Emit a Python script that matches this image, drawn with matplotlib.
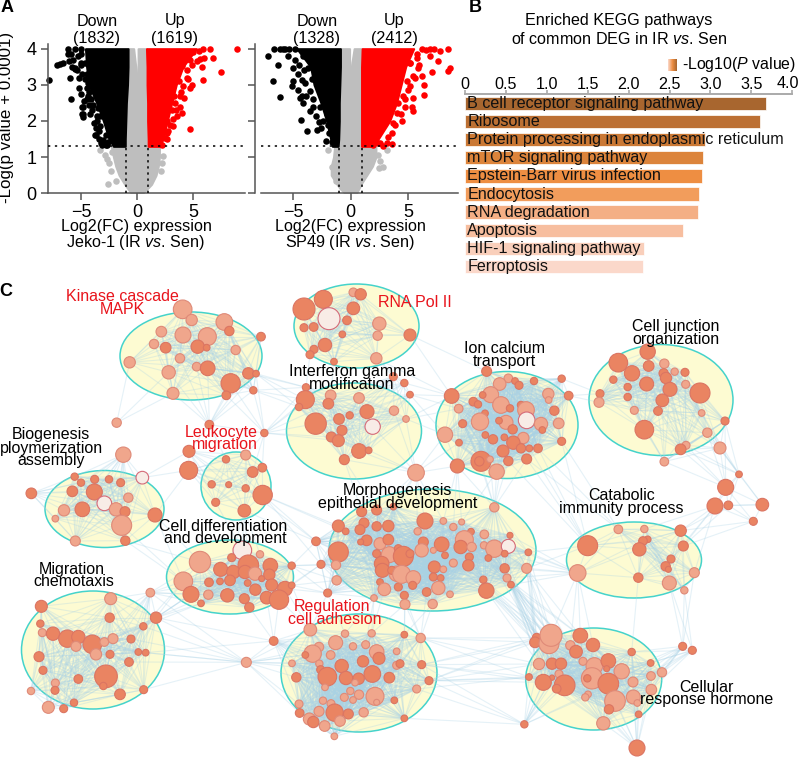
# Volcano plots, KEGG bars and enrichment network

import numpy as np
from matplotlib import pyplot as plt
from matplotlib.collections import LineCollection
from matplotlib.colors import LinearSegmentedColormap
from matplotlib.patches import Ellipse

plt.rcParams['font.family'] = ['Liberation Sans', 'DejaVu Sans']
plt.rcParams['mathtext.fontset'] = 'custom'
plt.rcParams['mathtext.rm'] = 'Liberation Sans'
plt.rcParams['mathtext.it'] = 'Liberation Sans:italic'

W, H = 800, 757

# Panel A: outline of the solid masses of points, then the loose points
jeko_y = [1.3, 1.5, 2.0, 2.5, 3.0, 3.5, 4.0]
jeko_black_l = [-2.1, -2.5, -3.0, -3.6, -4.3, -4.5, -4.6]
jeko_black_r = [-1.05, -1.05, -1.0, -0.95, -0.85, -0.8, -0.8]
jeko_red_l = [1.0, 1.0, 0.95, 0.95, 0.9, 0.9, 0.85]
jeko_red_r = [2.1, 2.3, 2.7, 3.1, 3.5, 4.1, 5.3]
jeko_gray_y = [0, 0.12, 0.25, 0.5, 0.75, 1.0, 1.3, 2.0, 3.0, 3.3, 3.6, 4.0]
jeko_gray_l = [-0.5, -0.8, -1.1, -1.6, -1.9, -2.1, -2.3, -1.0, -0.85, -0.8, -0.8, -0.8]
jeko_gray_r = [0.5, 0.9, 1.3, 1.7, 1.9, 2.0, 2.0, 1.0, 0.9, 0.9, 0.9, 0.85]
jeko_gap_l = [0, 0, 0, 0, 0, 0, 0, 0, 0, -0.05, -0.15, -0.3]
jeko_gap_r = [0, 0, 0, 0, 0, 0, 0, 0, 0, 0.05, 0.1, 0.1]
jeko_black_x = [-7.9, -7.1, -6.9, -6.6, -6.2, -6.2, -6.1, -5.9, -5.7, -5.5, -5.0, -5.3, -5.0, -6.0, -5.8,
                -5.5, -5.4, -5.2, -5.0, -4.9, -4.6, -4.5, -5.2, -5.9, -5.0, -4.9, -4.9, -4.8, -4.5, -4.3,
                -4.3, -4.1, -4.2, -3.8, -3.7, -3.7, -3.4, -3.2, -3.0, -2.8,
                -4.8, -3.6, -3.75, -3.3, -3.0, -3.15, -4.05, -4.35, -4.5, -4.65, -4.85, -3.3, -3.6, -3.42, -2.77,
                -2.56, -2.7, -5.0, -5.5, -4.7, -4.4, -3.9, -3.5]
jeko_black_y = [3.13, 3.55, 3.58, 3.6, 4.0, 3.85, 3.65, 3.85, 3.7, 4.0, 4.0, 3.8, 3.85, 3.2, 3.5,
                3.45, 3.4, 3.2, 3.55, 3.3, 3.6, 3.3, 2.9, 2.6, 2.75, 2.4, 2.2, 2.1, 2.6, 2.8,
                2.45, 2.6, 2.2, 1.95, 1.8, 1.6, 1.5, 1.4, 1.35, 1.33,
                2.4, 2.0, 1.62, 1.85, 1.48, 1.34, 2.3, 2.68, 2.9, 3.15, 2.18, 2.13, 2.13, 1.71, 1.62,
                1.43, 1.34, 3.6, 3.47, 2.55, 3.05, 2.45, 2.35]
jeko_red_x = [8.9, 6.5, 5.9, 5.5, 6.8, 6.0, 5.6, 5.4, 5.0, 7.5, 5.77, 5.86, 4.88, 4.73, 4.58, 4.2, 4.0,
              4.73, 3.24, 2.8, 3.84, 4.5, 3.9, 3.5, 3.2, 2.7,
              2.65, 2.5, 2.95, 2.35, 3.54, 3.1, 3.84, 4.14, 4.43, 4.0, 4.73, 4.88, 2.2, 2.65, 3.4, 3.75, 3.3]
jeko_red_y = [3.98, 3.98, 3.98, 3.95, 3.75, 3.75, 3.72, 3.65, 3.9, 3.35, 3.49, 3.13, 3.0, 2.92, 3.15, 2.64, 2.22,
              1.79, 1.85, 1.71, 2.4, 3.4, 2.8, 2.3, 2.05, 1.5,
              1.67, 1.53, 1.9, 2.13, 2.13, 2.3, 2.68, 2.96, 3.19, 3.52, 3.7, 3.56, 1.34, 2.0, 2.5, 3.1, 2.7]
jeko_gray_x = [-2.56, -1.9, -2.3, -2.7, -3.3, -2.9, 2.3, 2.1, 1.8, -2.5, -2.2, 2.2]
jeko_gray_y_pts = [0.25, 0.33, 0.62, 0.95, 1.2, 1.05, 1.03, 0.62, 1.2, 0.85, 1.15, 0.85]

sp49_y = [1.3, 1.5, 2.0, 2.5, 3.0, 3.5, 4.0]
sp49_black_l = [-1.6, -1.75, -2.1, -2.6, -3.2, -3.5, -4.7]
sp49_black_r = [-1.1, -1.05, -1.0, -1.0, -0.95, -0.9, -0.9]
sp49_red_l = [0.95, 0.95, 0.95, 0.95, 0.95, 0.95, 1.0]
sp49_red_r = [2.0, 2.4, 3.4, 4.0, 4.4, 4.8, 5.5]
sp49_gray_y = [0, 0.12, 0.25, 0.5, 0.75, 1.0, 1.3, 2.0, 3.0, 3.4, 3.7, 4.0]
sp49_gray_l = [-0.5, -0.9, -1.2, -1.7, -1.7, -1.5, -1.4, -1.0, -0.95, -0.9, -0.9, -0.9]
sp49_gray_r = [0.5, 0.7, 0.9, 1.4, 1.9, 2.2, 2.2, 1.0, 0.95, 0.95, 0.95, 1.0]
sp49_gap_l = [0, 0, 0, 0, 0, 0, 0, 0, 0, -0.02, -0.1, -0.1]
sp49_gap_r = [0, 0, 0, 0, 0, 0, 0, 0, 0, 0.02, 0.15, 0.3]
sp49_black_x = [-7.2, -6.8, -6.38, -6.2, -6.67, -6.2, -5.9, -5.44, -5.07, -4.6, -5.0, -5.15, -4.57, -4.28,
                -4.4, -4.2, -3.55, -4.37, -3.84, -2.9, -2.8, -3.55, -4.1, -3.9, -3.3, -3.0, -2.6, -2.2,
                -2.68, -2.1, -2.39, -1.95, -1.86, -1.66, -3.26, -4.0, -3.4, -3.7, -4.13, -4.86, -4.28,
                -5.4, -5.7, -4.9, -4.5]
sp49_black_y = [3.8, 3.12, 3.56, 2.66, 3.98, 3.98, 3.98, 3.8, 3.47, 3.29, 3.1, 2.96, 2.87, 3.13,
                2.64, 2.5, 2.29, 2.04, 1.71, 1.76, 1.96, 2.82, 3.4, 2.7, 2.4, 2.15, 1.8, 1.45,
                2.4, 2.18, 1.99, 1.9, 1.67, 1.43, 2.6, 3.05, 3.15, 3.47, 3.8, 3.98, 2.68,
                3.98, 3.98, 3.7, 3.55]
sp49_red_x = [8.53, 7.8, 6.93, 6.2, 8.68, 8.53, 7.66, 6.93, 7.07, 5.9, 6.2, 6.43, 6.43, 5.47, 5.33, 4.45,
              3.29, 3.58, 2.85, 1.98, 5.47, 4.75, 7.3, 6.6, 5.8, 5.2, 4.9, 4.4, 3.9, 2.6,
              3.58, 3.14, 2.42, 4.0, 3.73, 4.75, 5.18, 5.47, 5.18, 5.76, 4.6, 4.16, 6.0, 5.6, 5.0]
sp49_red_y = [3.98, 3.93, 3.98, 3.98, 3.47, 3.38, 3.66, 3.8, 3.35, 3.47, 3.24, 3.0, 2.71, 2.64, 2.4, 1.99,
              1.57, 1.37, 1.3, 1.34, 2.27, 2.6, 3.98, 3.97, 3.75, 3.6, 3.1, 2.2, 1.9, 1.4,
              1.67, 1.39, 1.39, 2.22, 1.94, 2.4, 2.96, 3.24, 3.61, 3.84, 2.68, 2.5, 3.55, 3.2, 2.85]
sp49_gray_x = [2.85, 3.14, -1.95, -1.66, 2.4, 2.6, -1.3, 2.5]
sp49_gray_y_pts = [0.74, 1.2, 1.2, 0.74, 1.05, 0.9, 0.35, 0.7]

# Panel B
pathways = ['B cell receptor signaling pathway', 'Ribosome', 'Protein processing in endoplasmic reticulum',
            'mTOR signaling pathway', 'Epstein-Barr virus infection', 'Endocytosis', 'RNA degradation',
            'Apoptosis', 'HIF-1 signaling pathway', 'Ferroptosis']
log_p = [3.68, 3.61, 2.93, 2.91, 2.90, 2.855, 2.85, 2.66, 2.19, 2.18]
bar_colors = ['#A8662F', '#BC7033', '#CA7834', '#DC843B', '#EE8E42', '#F29D5C', '#F4AF85', '#F7BE9F',
              '#F9CFBB', '#FBD8CA']
b_ticks = [0, 0.5, 1, 1.5, 2, 2.5, 3, 3.5, 4]
b_tick_labels = ['0', '0.5', '1.0', '1.5', '2.0', '2.5', '3.0', '3.5', '4.0']

# Panel C: cluster circles (centre x, centre y, width, height)
clusters = [(191, 356, 142, 88), (356.5, 326, 125, 84), (354, 431, 135, 96), (507, 425, 142, 107),
            (661, 400, 144, 111), (236, 486, 70, 68), (104.5, 509, 119, 77), (432.5, 550, 207, 122),
            (634, 560, 135, 76), (230, 577, 127, 74), (93, 650, 143, 118), (359, 673, 156, 118),
            (593.7, 679, 136, 102)]
# cluster a, cluster b, number of links between them
bundles = [(0, 2, 12), (2, 3, 10), (1, 2, 4), (1, 3, 3), (3, 7, 12), (3, 4, 3), (3, 8, 8), (4, 8, 8), (2, 7, 8),
           (5, 7, 6), (5, 9, 5), (6, 9, 5), (9, 7, 10), (10, 9, 14), (10, 11, 10), (9, 11, 6), (7, 11, 14),
           (7, 12, 40), (11, 12, 20), (8, 12, 10), (7, 8, 10), (0, 5, 2), (5, 2, 3), (6, 5, 3)]

# nodes as x, y, radius, shade, read at 3x from four quarters of the panel
nodes_top_left = [
    (548, 88, 28, 1), (575, 120, 17, 1), (673, 126, 25, 1), (484, 155, 16, 1), (549, 165, 24, 1), (622, 170, 27, 1),
    (688, 153, 14, 0), (783, 170, 13, 0), (462, 192, 14, 1), (497, 203, 16, 0), (593, 200, 20, 0), (620, 203, 10, 0),
    (707, 210, 14, 1), (389, 247, 17, 1), (540, 235, 14, 1), (590, 260, 13, 1), (623, 265, 22, 0), (506, 277, 20, 1),
    (745, 280, 17, 0), (768, 281, 10, 0), (692, 310, 29, 0), (519, 340, 18, 1), (679, 346, 13, 0), (760, 331, 11, 0),
    (912, 87, 33, 0), (970, 58, 27, 0), (1060, 37, 13, 1), (1082, 43, 17, 0), (1060, 85, 19, 0), (987, 116, 33, 2),
    (1041, 121, 13, 0), (1138, 131, 20, 1), (912, 143, 12, 0), (941, 141, 13, 0), (1027, 163, 10, 0), (1133, 167, 14, 1),
    (975, 195, 20, 0), (942, 208, 12, 0), (930, 224, 12, 0), (1002, 245, 10, 0), (1129, 235, 17, 1),
    (918, 322, 11, 0), (916, 359, 27, 0), (897, 381, 11, 0), (992, 346, 16, 1), (985, 371, 16, 0), (1077, 354, 16, 1),
    (1101, 395, 21, 0), (1182, 392, 14, 1), (1180, 290, 12, 0), (947, 431, 32, 0), (1049, 406, 11, 0), (1017, 417, 16, 0),
    (1118, 440, 23, 2), (1026, 451, 15, 0), (994, 471, 15, 0), (1015, 482, 18, 0), (1077, 513, 22, 0), (1106, 511, 10, 0),
    (1033, 539, 15, 0), (350, 428, 14, 1), (628, 434, 13, 0), (793, 459, 11, 0), (567, 514, 18, 0), (566, 571, 27, 0),
    (370, 524, 23, 1), (427, 593, 19, 2), (224, 590, 11, 0), (243, 608, 11, 0), (284, 598, 12, 0), (327, 598, 11, 0),
    (362, 608, 12, 0), (94, 640, 16, 0), (217, 634, 16, 0), (283, 636, 24, 0), (385, 653, 14, 1), (313, 670, 22, 2),
    (192, 691, 17, 1), (247, 688, 22, 0), (348, 688, 20, 1), (375, 695, 15, 0), (465, 705, 21, 0),
    (737, 525, 15, 1), (678, 538, 11, 0), (758, 576, 16, 0), (787, 563, 13, 0), (635, 613, 11, 0), (686, 614, 9, 0),
    (737, 625, 11, 0), (788, 645, 29, 0), (647, 667, 12, 0), (733, 692, 19, 0),
    (1085, 695, 15, 0), (1130, 690, 15, 0), (1180, 680, 10, 0)]
nodes_top_right = [
    (30, 165, 18, 0), (13, 309, 11, 0), (30, 344, 10, 0), (18, 417, 10, 1), (48, 578, 25, 1),
    (260, 274, 15, 0), (325, 295, 13, 1), (299, 312, 19, 1), (345, 303, 10, 0), (357, 316, 12, 0), (402, 303, 11, 0),
    (485, 296, 11, 0), (155, 348, 22, 0), (272, 344, 24, 1), (248, 345, 10, 0), (445, 342, 17, 1), (446, 360, 10, 1),
    (506, 347, 13, 0), (220, 365, 13, 0), (234, 373, 11, 0), (176, 386, 13, 1), (303, 375, 25, 1), (330, 385, 11, 0),
    (363, 375, 11, 0), (378, 390, 25, 1), (463, 392, 14, 0), (255, 400, 10, 0), (240, 425, 26, 1), (380, 421, 25, 2),
    (188, 431, 12, 0), (318, 427, 21, 1), (297, 422, 10, 0), (423, 432, 20, 1), (476, 430, 16, 1), (338, 448, 14, 0),
    (427, 450, 10, 0), (135, 464, 23, 1), (256, 465, 10, 0), (279, 478, 14, 0), (313, 472, 10, 0), (370, 474, 17, 1),
    (177, 488, 10, 0), (340, 488, 20, 0), (485, 484, 12, 0), (363, 505, 14, 0), (388, 505, 10, 0), (414, 505, 13, 0),
    (309, 513, 18, 0), (243, 544, 30, 0), (238, 544, 14, 0), (325, 543, 14, 0), (380, 537, 15, 0), (270, 538, 10, 1),
    (172, 558, 21, 0), (290, 575, 23, 1),
    (743, 215, 23, 0), (655, 248, 28, 0), (793, 251, 14, 1), (746, 258, 16, 0), (696, 280, 23, 0), (791, 280, 14, 0),
    (824, 275, 11, 1), (855, 277, 12, 0), (798, 294, 17, 0), (640, 299, 11, 0), (740, 312, 21, 0), (683, 321, 11, 0),
    (857, 313, 12, 1), (810, 328, 21, 0), (900, 339, 30, 0), (600, 341, 12, 0), (683, 351, 11, 0), (597, 367, 15, 1),
    (787, 361, 19, 0), (703, 391, 12, 1), (774, 393, 13, 0), (905, 399, 10, 1), (975, 423, 12, 0), (733, 449, 28, 0),
    (922, 458, 14, 1), (858, 496, 12, 1), (842, 508, 16, 0), (960, 504, 18, 1), (793, 545, 13, 1), (1017, 583, 10, 0),
    (977, 622, 24, 0), (945, 678, 24, 0), (985, 676, 13, 0), (1087, 674, 19, 0), (283, 682, 14, 1)]
nodes_bottom_left = [
    (166, 5, 10, 1), (365, 25, 30, 1), (226, 72, 15, 1), (376, 71, 14, 0),
    (727, 100, 28, 2), (780, 112, 11, 1), (600, 135, 32, 1), (550, 193, 28, 1), (573, 232, 24, 0), (627, 196, 13, 0),
    (625, 233, 14, 1), (603, 259, 10, 0), (662, 157, 21, 0), (695, 122, 12, 0), (745, 145, 31, 0), (811, 146, 22, 0),
    (700, 165, 20, 0), (690, 190, 16, 0), (660, 193, 10, 0), (735, 165, 20, 0), (765, 170, 20, 1), (808, 173, 17, 0),
    (785, 185, 9, 0), (743, 198, 10, 0), (766, 218, 17, 0), (815, 204, 18, 0), (682, 235, 20, 0), (733, 245, 15, 0),
    (800, 242, 19, 0), (855, 215, 22, 0), (837, 248, 29, 0), (875, 146, 11, 0), (748, 271, 14, 0), (875, 205, 10, 0),
    (948, 73, 13, 0), (963, 142, 12, 0), (983, 228, 12, 0), (821, 372, 13, 0), (739, 436, 15, 1), (451, 227, 13, 1),
    (1003, 658, 10, 1),
    (124, 268, 18, 0), (332, 245, 18, 1), (468, 302, 17, 0), (329, 302, 14, 0), (121, 320, 11, 0), (127, 347, 12, 1),
    (159, 350, 20, 0), (202, 365, 26, 0), (235, 360, 20, 0), (228, 388, 15, 1), (277, 382, 28, 0), (313, 375, 13, 1),
    (339, 365, 15, 1), (393, 366, 12, 0), (430, 328, 11, 0), (288, 412, 17, 1), (330, 412, 12, 0), (415, 405, 10, 0),
    (437, 407, 10, 0), (117, 419, 15, 0), (387, 435, 13, 0), (129, 460, 12, 0), (318, 478, 34, 0), (235, 486, 13, 0),
    (166, 498, 12, 1), (165, 520, 12, 0), (310, 507, 11, 0), (93, 522, 11, 1), (431, 518, 12, 0), (360, 532, 16, 0),
    (222, 557, 11, 0), (145, 571, 18, 1), (191, 575, 12, 0),
    (931, 338, 19, 1), (1035, 350, 11, 1), (1115, 349, 11, 1), (957, 390, 14, 1), (1007, 377, 21, 1), (1059, 388, 11, 1),
    (1097, 383, 12, 1), (938, 410, 26, 1), (916, 414, 10, 0), (992, 414, 13, 1), (1130, 405, 22, 1), (1137, 424, 18, 0),
    (1190, 403, 10, 1), (876, 439, 10, 1), (958, 440, 11, 1), (1025, 447, 20, 0), (1089, 433, 17, 0), (1190, 445, 12, 1),
    (962, 458, 12, 0), (889, 481, 14, 0), (982, 479, 28, 0), (1038, 483, 20, 0), (1076, 485, 17, 0), (1117, 471, 25, 0),
    (1168, 482, 16, 0), (1065, 497, 10, 1), (975, 511, 10, 1), (1051, 522, 11, 1), (1033, 541, 12, 1), (1077, 533, 14, 1),
    (1059, 549, 10, 1), (1125, 538, 27, 1), (1183, 550, 10, 0), (969, 551, 11, 1), (993, 560, 12, 1), (1130, 556, 9, 1),
    (897, 561, 12, 1), (957, 583, 15, 1), (1004, 587, 26, 0), (1045, 591, 15, 0), (1091, 586, 14, 1), (899, 588, 13, 0),
    (928, 606, 18, 1), (940, 615, 17, 0), (974, 627, 16, 1), (1020, 612, 16, 1),
    (1015, 27, 18, 0), (1037, 43, 10, 0), (1092, 18, 15, 0), (1130, 28, 14, 0), (1080, 38, 15, 0), (1165, 27, 17, 0),
    (1100, 70, 16, 0), (1082, 75, 9, 0), (1015, 105, 30, 0), (1140, 80, 18, 1), (1165, 68, 16, 0), (1168, 113, 24, 1),
    (1130, 110, 12, 0), (1195, 95, 12, 0), (1145, 140, 22, 0), (1147, 160, 21, 0), (1008, 144, 14, 1), (1190, 170, 23, 1),
    (1175, 160, 12, 0), (1010, 190, 14, 1), (1140, 195, 10, 0), (1153, 217, 19, 1), (1122, 243, 10, 1), (1195, 210, 12, 0)]
nodes_bottom_right = [
    (75, 12, 24, 0), (53, 43, 11, 1), (130, 12, 10, 1), (160, 30, 11, 1), (185, 15, 9, 1), (213, 44, 10, 0), (193, 68, 27, 1),
    (253, 52, 13, 1), (330, 55, 9, 0), (70, 75, 15, 0), (125, 82, 22, 0), (182, 90, 20, 0), (215, 90, 14, 1), (252, 85, 11, 1),
    (283, 95, 26, 1), (325, 88, 21, 2), (10, 118, 30, 0), (65, 100, 20, 1), (100, 100, 9, 1), (30, 110, 12, 0), (265, 123, 10, 0),
    (314, 110, 10, 0), (385, 106, 10, 0), (135, 115, 10, 0), (208, 120, 12, 0), (103, 150, 18, 0), (160, 138, 12, 1),
    (130, 157, 10, 1), (205, 145, 17, 0), (314, 154, 14, 0), (380, 154, 15, 1), (5, 172, 27, 1), (40, 183, 22, 1), (100, 180, 12, 0),
    (122, 183, 10, 0), (38, 205, 12, 0), (115, 213, 20, 1), (80, 225, 13, 0), (321, 183, 12, 1), (250, 188, 11, 0), (333, 203, 10, 0),
    (259, 221, 23, 0), (150, 232, 10, 1), (13, 235, 12, 0), (15, 262, 15, 1), (98, 261, 14, 1),
    (655, 37, 13, 1), (733, 36, 11, 1), (842, 41, 17, 0), (743, 67, 10, 0), (729, 72, 13, 0), (563, 86, 30, 0), (850, 87, 15, 0),
    (718, 97, 20, 0), (813, 126, 12, 0), (797, 148, 14, 0), (805, 157, 9, 0), (533, 168, 25, 1), (715, 182, 14, 0), (883, 167, 15, 1),
    (808, 198, 21, 1), (853, 220, 11, 1), (1060, 13, 12, 0),
    (410, 362, 13, 0), (405, 376, 16, 0), (447, 380, 30, 1), (453, 355, 33, 1), (541, 356, 22, 0), (579, 384, 20, 0), (511, 385, 14, 1),
    (528, 404, 19, 0), (848, 388, 12, 0), (877, 400, 12, 0), (695, 405, 11, 0), (752, 438, 10, 0), (417, 441, 17, 1), (456, 440, 17, 0),
    (483, 440, 17, 0), (549, 433, 12, 1), (583, 447, 25, 1), (625, 432, 22, 0), (620, 455, 9, 0), (665, 463, 23, 1), (786, 466, 14, 1),
    (477, 471, 12, 1), (456, 482, 8, 0), (387, 480, 10, 0), (576, 484, 32, 1), (562, 484, 11, 0), (753, 477, 13, 1), (699, 495, 15, 1),
    (430, 496, 24, 0), (494, 505, 31, 0), (470, 515, 13, 0), (625, 500, 31, 0), (754, 518, 16, 1), (564, 532, 10, 1), (556, 541, 11, 1),
    (645, 552, 31, 1), (700, 540, 21, 1), (712, 558, 10, 1), (627, 577, 14, 0), (716, 592, 10, 0), (610, 619, 20, 1), (373, 622, 11, 0),
    (711, 693, 24, 0), (62, 363, 14, 1), (13, 353, 10, 0), (65, 443, 12, 0), (87, 491, 12, 0), (50, 516, 12, 1), (13, 604, 10, 0),
    (0, 440, 12, 0)]

network_labels = ['Kinase cascade', 'MAPK', 'RNA Pol II', 'Interferon gamma', 'modification', 'Ion calcium', 'transport',
                  'Cell junction', 'organization', 'Biogenesis', 'ploymerization', 'assembly', 'Leukocyte', 'migration',
                  'Morphogenesis', 'epithelial development', 'Catabolic', 'immunity process', 'Cell differentiation',
                  'and development', 'Migration', 'chemotaxis', 'Regulation', 'cell adhesion', 'Cellular', 'response hormone']
label_x = [122.7, 122.7, 414.7, 352, 351.7, 504, 504, 676, 676, 51.3, 51, 51, 221.7, 224.7,
           397.7, 397.5, 622, 621.7, 222.7, 225.7, 72, 74, 332.3, 334.3, 706.7, 706.7]
label_y = [296.7, 309.3, 302.7, 371.7, 384.7, 348.7, 361.7, 326, 339.3, 435, 448, 461, 432, 444.7,
           490.7, 503.3, 496, 509, 526.3, 539, 569.3, 582, 606.3, 619, 687, 699.7]
label_red = ['Kinase cascade', 'MAPK', 'RNA Pol II', 'Leukocyte', 'migration', 'Regulation', 'cell adhesion']


def axes_at(left, top, right, bottom):
    # axes placed by its pixel edges
    return fig.add_axes([left / W, 1 - bottom / H, (right - left) / W, (bottom - top) / H])


def volcano(ax, y, bl, br, rl, rr, gy, gl, gr, gapl, gapr, bx, by, rx, ry, gx, gyp):
    ax.fill_betweenx(gy, gl, gapl, color='#BEBEBE', lw=1.5, zorder=1)
    ax.fill_betweenx(gy, gapr, gr, color='#BEBEBE', lw=1.5, zorder=1)
    ax.fill_betweenx(y, bl, br, color='black', lw=1.5, zorder=2)
    ax.fill_betweenx(y, rl, rr, color='#FF0000', lw=1.5, zorder=2)
    ax.scatter(gx, gyp, s=22, color='#BEBEBE', lw=0, zorder=1, clip_on=False)
    ax.scatter(bx, by, s=22, color='black', lw=0, zorder=2, clip_on=False)
    ax.scatter(rx, ry, s=22, color='#FF0000', lw=0, zorder=2, clip_on=False)
    ax.axhline(1.3, color='black', ls=(0, (1.5, 3)), lw=1.1, zorder=3)
    ax.axvline(-1, ymax=1.3 / 4.13, color='black', ls=(0, (1.5, 2.5)), lw=1.1, zorder=3)
    ax.axvline(1, ymax=1.3 / 4.13, color='black', ls=(0, (1.5, 2.5)), lw=1.1, zorder=3)
    ax.set_ylim(0, 4.13)
    ax.set_xticks([-5, 0, 5])
    ax.set_yticks([0, 1, 2, 3, 4])
    ax.spines[['top', 'right']].set_visible(False)
    for side in ['left', 'bottom']:
        ax.spines[side].set_color('#555555')
        ax.spines[side].set_linewidth(1.1)
    ax.tick_params(length=5, width=1.1, color='#555555', labelsize=13, pad=3)
    ax.patch.set_alpha(0)


fig = plt.figure(figsize=(W / 100, H / 100), dpi=100)

# Panel C first, so it lies under the other panels
net = fig.add_axes([0, 0, 1, 1])
net.set_xlim(0, W)
net.set_ylim(H, 0)
net.axis('off')

quarters = [(nodes_top_left, 0, 280), (nodes_top_right, 400, 280), (nodes_bottom_left, 0, 517), (nodes_bottom_right, 400, 517)]
nx, ny, nr, ns = [], [], [], []
for rows, ox, oy in quarters:
    for x, y, r, shade in rows:
        nx.append(ox + x / 3)
        ny.append(oy + y / 3)
        nr.append(r / 3)
        ns.append(shade)
nx, ny, nr, ns = map(np.array, (nx, ny, nr, ns))

for cx, cy, w, h in clusters:
    net.add_patch(Ellipse((cx, cy), w, h, fc='#FDFBD2', ec='#45D3CB', lw=1.1, zorder=1))

# each node belongs to the circle it sits closest to
dist = np.array([np.hypot((nx - c[0]) / (c[2] / 2), (ny - c[1]) / (c[3] / 2)) for c in clusters])
member = dist.argmin(axis=0)

segments = []
for k in range(len(clusters)):
    idx = np.where(member == k)[0]
    for a in idx:
        for b in idx:
            if a < b and np.hypot(nx[a] - nx[b], ny[a] - ny[b]) < 75:
                segments.append([(nx[a], ny[a]), (nx[b], ny[b])])
for a_k, b_k, n in bundles:
    ia, ib = np.where(member == a_k)[0], np.where(member == b_k)[0]
    d = np.hypot(nx[ia][:, None] - nx[ib][None, :], ny[ia][:, None] - ny[ib][None, :])
    order = np.argsort(d, axis=None)[:n]
    for o in order:
        i, j = np.unravel_index(o, d.shape)
        segments.append([(nx[ia[i]], ny[ia[i]]), (nx[ib[j]], ny[ib[j]])])
net.add_collection(LineCollection(segments, colors='#A9D2E6', linewidths=0.8, alpha=0.3, zorder=2))

faces = np.array(['#EA8462', '#F0A68C', '#F8ECE6'])
edges = np.array(['#DB7563', '#DF8A78', '#D56A78'])
net.scatter(nx, ny, s=(2 * nr * 0.72) ** 2, c=faces[ns], edgecolors=edges[ns], linewidths=0.8, zorder=3)

for text, x, y in zip(network_labels, label_x, label_y):
    net.text(x, y, text, fontsize=11.5, ha='center', va='center', zorder=5,
             color='#E8141C' if text in label_red else 'black')

# Panel letters and headings
for text, x, y in [('A', 7, 8), ('B', 475, 8), ('C', 6, 292)]:
    net.text(x, y, text, fontsize=13, fontweight='bold', ha='center', va='center')
for text, x in [('Down', 97), ('(1832)', 97), ('Up', 175), ('(1619)', 175), ('Down', 317), ('(1328)', 317), ('Up', 394), ('(2412)', 394)]:
    net.text(x, 39 if text.startswith('(') else 21, text, fontsize=11.6, ha='center', va='center', zorder=6)
net.text(7, 117.5, '-Log(p value + 0.0001)', fontsize=12.2, rotation=90, ha='center', va='center')
net.text(136, 227, 'Log2(FC) expression', fontsize=11.6, ha='center', va='center')
net.text(136, 243, 'Jeko-1 (IR $\\mathit{vs}$. Sen)', fontsize=11.6, ha='center', va='center')
net.text(350, 227, 'Log2(FC) expression', fontsize=11.6, ha='center', va='center')
net.text(350, 243, 'SP49 (IR $\\mathit{vs}$. Sen)', fontsize=11.6, ha='center', va='center')
net.text(619, 21, 'Enriched KEGG pathways', fontsize=11.6, ha='center', va='center')
net.text(619, 39, 'of common DEG in IR $\\mathit{vs}$. Sen', fontsize=11.6, ha='center', va='center')
net.text(682.5, 65, '-Log10($\\mathit{P}$ value)', fontsize=11.4, ha='left', va='center')

# Panel A
ax1 = axes_at(47.7, 44, 245, 193.3)
ax1.set_xlim((47.7 - 137) / 11.2, (245 - 137) / 11.2)
volcano(ax1, jeko_y, jeko_black_l, jeko_black_r, jeko_red_l, jeko_red_r, jeko_gray_y, jeko_gray_l, jeko_gray_r,
        jeko_gap_l, jeko_gap_r, jeko_black_x, jeko_black_y, jeko_red_x, jeko_red_y, jeko_gray_x, jeko_gray_y_pts)

ax2 = axes_at(261, 44, 457.7, 193.3)
ax2.set_xlim((261 - 350.7) / 11.45, (457.7 - 350.7) / 11.45)
volcano(ax2, sp49_y, sp49_black_l, sp49_black_r, sp49_red_l, sp49_red_r, sp49_gray_y, sp49_gray_l, sp49_gray_r,
        sp49_gap_l, sp49_gap_r, sp49_black_x, sp49_black_y, sp49_red_x, sp49_red_y, sp49_gray_x, sp49_gray_y_pts)
ax2.spines['left'].set_position(('outward', 4))
ax2.set_yticklabels([])

# Panel B
ax3 = axes_at(465, 94.3, 792.3, 275)
ax3.barh(range(len(log_p)), log_p, height=0.74, color=bar_colors, edgecolor='white', lw=0.5)
for i, name in enumerate(pathways):
    ax3.text(0.03, i, name, fontsize=11.6, ha='left', va='center', color='#111111', clip_on=False)
ax3.set_xlim(0, 4)
ax3.set_ylim(9.46, -0.496)
# the last label sits just inside the figure edge, so it is placed by hand
ax3.set_xticks(b_ticks, b_tick_labels[:-1] + [''])
ax3.set_yticks([])
ax3.xaxis.tick_top()
ax3.tick_params(axis='x', length=3, width=1.2, color='#AAAAAA', labelsize=11.6, pad=-1.3)
ax3.spines[['left', 'right', 'bottom']].set_visible(False)
ax3.spines['top'].set_color('#AAAAAA')
ax3.spines['top'].set_linewidth(1.4)
ax3.patch.set_alpha(0)
net.text(799.5, 83.5, b_tick_labels[-1], fontsize=11.6, ha='right', va='center')

# Colour key of panel B
key = axes_at(668, 59, 677, 71)
key.imshow(np.linspace(0, 1, 32)[None, :], aspect='auto',
           cmap=LinearSegmentedColormap.from_list('key', ['#FBD8CA', '#EE8E42', '#A8662F']))
key.axis('off')

plt.savefig('out.png', dpi=100)
